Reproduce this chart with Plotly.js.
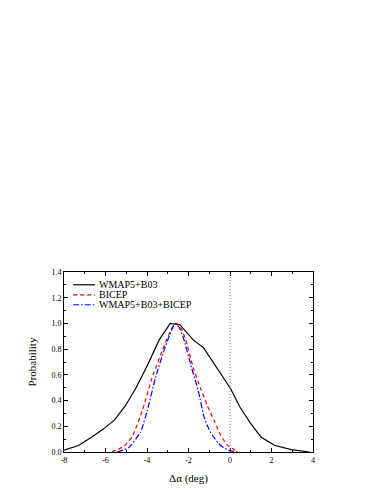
<!DOCTYPE html>
<html>
<head>
<meta charset="utf-8">
<script src="https://cdn.plot.ly/plotly-3.0.1.min.js"></script>
<style>html,body{margin:0;padding:0;background:#fff;}#chart{width:383px;height:495px;}</style>
</head>
<body>
<div id="chart"></div>
<script>
// ---- data ----
const seriesNames = ['WMAP5+B03', 'BICEP', 'WMAP5+B03+BICEP'];

const wmapX = [-8.0, -7.3, -6.66, -6.09, -5.56, -5.04, -4.56, -3.99, -3.42, -2.88, -2.42, -1.76, -1.27, -0.62, -0.12, 0.04, 0.44, 1.0, 1.49, 2.14, 2.95, 3.83];
const wmapY = [0.015, 0.05, 0.117, 0.18, 0.25, 0.36, 0.49, 0.67, 0.87, 1.0, 0.99, 0.87, 0.81, 0.65, 0.53, 0.49, 0.36, 0.22, 0.117, 0.052, 0.019, 0.0];

const bicepX = [-5.69, -5.12, -4.72, -4.23, -3.75, -3.26, -2.78, -2.57, -2.38, -2.16, -1.76, -1.43, -1.09, -0.77, -0.45, -0.12, 0.2, 0.4];
const bicepY = [0.0, 0.044, 0.117, 0.32, 0.58, 0.79, 0.97, 1.0, 0.97, 0.885, 0.65, 0.50, 0.36, 0.246, 0.13, 0.052, 0.019, 0.0];

const combX = [-5.44, -4.88, -4.31, -3.99, -3.59, -3.18, -2.97, -2.78, -2.65, -2.45, -2.24, -1.84, -1.52, -1.25, -1.05, -0.85, -0.45, -0.05, 0.36];
const combY = [0.0, 0.034, 0.156, 0.32, 0.58, 0.79, 0.885, 0.96, 1.0, 0.97, 0.885, 0.65, 0.47, 0.27, 0.19, 0.13, 0.05, 0.013, 0.0];

const xTickVals = [-8, -6, -4, -2, 0, 2, 4];
const xTickText = ['-8', '-6', '-4', '-2', '0', '2', '4'];
const yTickVals = [0, 0.2, 0.4, 0.6, 0.8, 1.0, 1.2, 1.4];
const yTickText = ['0.0', '0.2', '0.4', '0.6', '0.8', '1.0', '1.2', '1.4'];
const xLabel = 'Δα (deg)';
const yLabel = 'Probability';
const refLineX = 0;

// ---- styling ----
const FONT = 'Liberation Serif, Times New Roman, serif';
const colors = ['#000000', '#ff0000', '#0000ff'];
const dashes = ['solid', '4px,3px', '6px,2px,1.5px,2px'];

const xs = [wmapX, bicepX, combX];
const ys = [wmapY, bicepY, combY];

const traces = xs.map((x, i) => ({
  x: x, y: ys[i], type: 'scatter', mode: 'lines', name: seriesNames[i],
  line: {color: colors[i], width: 1.2, dash: dashes[i], shape: i === 0 ? 'linear' : 'spline', smoothing: 0.5},
  showlegend: false, hoverinfo: 'skip'
}));

// manual legend (tight row spacing as in the reference)
const legRows = [0.929, 0.873, 0.818];
const shapes = [{
  type: 'line', xref: 'x', yref: 'y', x0: refLineX, x1: refLineX, y0: 0, y1: 1.4,
  line: {color: '#e040e0', width: 1, dash: '1px,2px'}
}];
const annotations = [];
seriesNames.forEach((n, i) => {
  shapes.push({type: 'line', xref: 'paper', yref: 'paper', x0: 0.037, x1: 0.125, y0: legRows[i], y1: legRows[i],
    line: {color: colors[i], width: 1.2, dash: dashes[i]}});
  annotations.push({xref: 'paper', yref: 'paper', x: 0.133, y: legRows[i], xanchor: 'left', yanchor: 'middle',
    text: n, showarrow: false, font: {family: FONT, size: 10, color: '#000'}});
});

const axisCommon = {
  showgrid: false, zeroline: false, showline: true, linecolor: '#000', linewidth: 1,
  mirror: 'allticks', ticks: 'inside', ticklen: 4, tickwidth: 1, tickcolor: '#000',
  tickfont: {family: FONT, size: 8, color: '#000'}, automargin: false
};

const layout = {
  width: 383, height: 495,
  margin: {l: 64, r: 70, t: 272, b: 43, pad: 0},
  paper_bgcolor: '#fff', plot_bgcolor: '#fff',
  font: {family: FONT, color: '#000'},
  showlegend: false,
  xaxis: Object.assign({}, axisCommon, {
    range: [-8, 4], tickmode: 'array', tickvals: xTickVals, ticktext: xTickText,
    minor: {tickmode: 'linear', tick0: 0, dtick: 1, ticks: 'inside', ticklen: 2, tickcolor: '#000', showgrid: false},
    title: {text: xLabel, font: {family: FONT, size: 11, color: '#000'}, standoff: 10}
  }),
  yaxis: Object.assign({}, axisCommon, {
    range: [0, 1.4], tickmode: 'array', tickvals: yTickVals, ticktext: yTickText,
    minor: {tickmode: 'linear', tick0: 0, dtick: 0.1, ticks: 'inside', ticklen: 2, tickcolor: '#000', showgrid: false},
    title: {text: yLabel, font: {family: FONT, size: 11, color: '#000'}, standoff: 12}
  }),
  shapes: shapes,
  annotations: annotations
};

Plotly.newPlot('chart', traces, layout, {staticPlot: true, displayModeBar: false});
</script>
</body>
</html>
